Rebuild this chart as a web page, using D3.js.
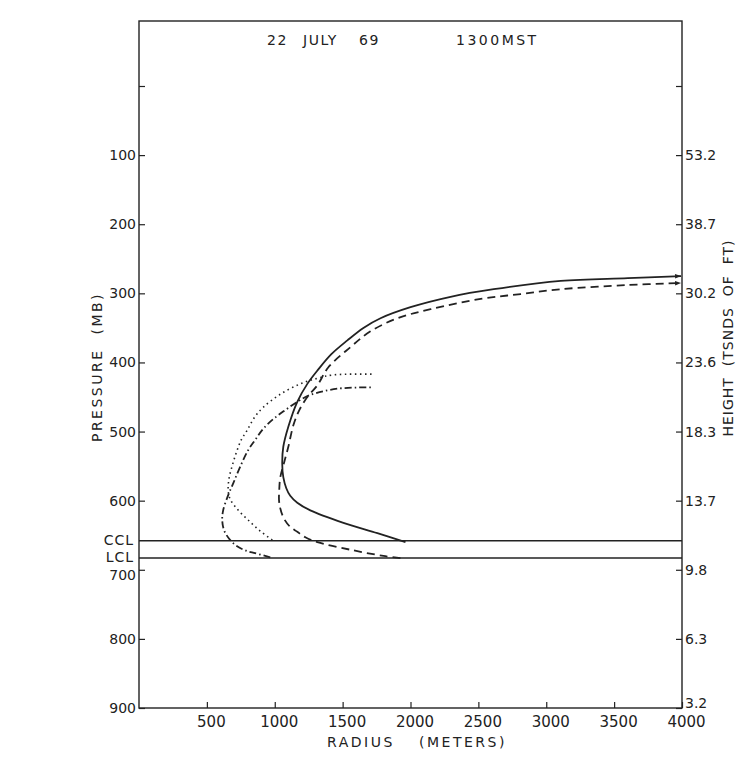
<!DOCTYPE html>
<html>
<head>
<meta charset="utf-8">
<script src="https://cdn.jsdelivr.net/npm/d3@7"></script>
<style>
  body { margin: 0; background: #fff; }
  svg { display: block; }
  text { font-family: "DejaVu Sans", sans-serif; fill: #222; }
</style>
</head>
<body>
<div id="chart"></div>
<script>
// ticks and labels
const pressureTicks = [0, 100, 200, 300, 400, 500, 600, 700, 800, 900]
const heightLabels = ["", "53.2", "38.7", "30.2", "23.6", "18.3", "13.7", "9.8", "6.3", "3.2"]
const radiusTicks = [500, 1000, 1500, 2000, 2500, 3000, 3500, 4000]

// condensation levels (mb)
const cclPressure = 658
const lclPressure = 683

// [radius m, pressure mb]
const solidCurve = [
  [1963, 660], [1756, 647], [1506, 632], [1262, 614], [1166, 603], [1114, 593],
  [1085, 582], [1063, 566], [1055, 546], [1063, 522], [1100, 493], [1166, 457],
  [1240, 431], [1321, 410], [1417, 388], [1535, 368], [1653, 350], [1779, 336],
  [2000, 320], [2295, 305], [2613, 294], [3107, 282], [3601, 278], [3993, 275]
]
const dashedCurve = [
  [1926, 683], [1801, 680], [1557, 671], [1314, 660], [1225, 653], [1166, 645],
  [1114, 638], [1063, 624], [1033, 603], [1033, 585], [1041, 566], [1070, 544],
  [1100, 522], [1137, 491], [1181, 469], [1240, 450], [1314, 433], [1395, 407],
  [1557, 378], [1705, 355], [1904, 336], [2148, 323], [2517, 308], [2812, 301],
  [3107, 294], [3601, 288], [3993, 285]
]
const dottedCurve = [
  [982, 657], [893, 644], [804, 628], [723, 612], [672, 598], [657, 585],
  [664, 567], [686, 550], [716, 531], [753, 512], [797, 498], [849, 480],
  [915, 465], [1041, 446], [1188, 431], [1314, 423], [1432, 418], [1727, 417]
]
const dashDotCurve = [
  [967, 682], [856, 676], [797, 673], [723, 666], [672, 657], [627, 643],
  [613, 628], [620, 614], [657, 592], [694, 575], [745, 551], [804, 527],
  [856, 512], [915, 496], [989, 482], [1077, 469], [1166, 457], [1262, 447],
  [1461, 438], [1720, 436]
]

const width = 748
const height = 775
const plotLeft = 139, plotRight = 682, plotTop = 21, plotBottom = 708
const ink = "#222"

const x = d3.scaleLinear().domain([0, 4000]).range([plotLeft, plotRight])
const y = d3.scaleLinear().domain([0, 900]).range([86, plotBottom])

const svg = d3.select("#chart")
  .append("svg")
  .attr("width", width)
  .attr("height", height)

// frame
svg.append("rect")
  .attr("x", plotLeft).attr("y", plotTop)
  .attr("width", plotRight - plotLeft).attr("height", plotBottom - plotTop)
  .attr("fill", "none").attr("stroke", ink).attr("stroke-width", 1.4)

// left axis
const gLeft = svg.append("g")
  .attr("transform", `translate(${plotLeft},0)`)
  .call(d3.axisLeft(y).tickValues(pressureTicks).tickSizeInner(-6).tickSizeOuter(0)
    .tickPadding(3).tickFormat(d => d === 0 ? "" : d))
gLeft.select(".domain").remove()
gLeft.selectAll("line").attr("stroke", ink).attr("stroke-width", 1.2)
gLeft.selectAll("text").style("font-size", "14px").attr("fill", ink)
  .attr("dy", d => d === 700 ? "0.7em" : "0.32em")

// right axis
const gRight = svg.append("g")
  .attr("transform", `translate(${plotRight},0)`)
  .call(d3.axisRight(y).tickValues(pressureTicks).tickSizeInner(-6).tickSizeOuter(0)
    .tickPadding(3).tickFormat((d, i) => heightLabels[i]))
gRight.select(".domain").remove()
gRight.selectAll("line").attr("stroke", ink).attr("stroke-width", 1.2)
gRight.selectAll("text").style("font-size", "14px").attr("fill", ink)
  .attr("dy", d => d === 900 ? "-0.05em" : "0.32em")

// bottom axis
const gBottom = svg.append("g")
  .attr("transform", `translate(0,${plotBottom})`)
  .call(d3.axisBottom(x).tickValues(radiusTicks).tickSizeInner(-6).tickSizeOuter(0)
    .tickPadding(8).tickFormat(d3.format("d")))
gBottom.select(".domain").remove()
gBottom.selectAll("line").attr("stroke", ink).attr("stroke-width", 1.2)
gBottom.selectAll("text").style("font-size", "15px").attr("fill", ink).attr("dx", 4)

// CCL / LCL levels
const levels = [["CCL", cclPressure], ["LCL", lclPressure]]
levels.forEach(([name, p]) => {
  svg.append("line")
    .attr("x1", plotLeft).attr("x2", plotRight)
    .attr("y1", y(p)).attr("y2", y(p))
    .attr("stroke", ink).attr("stroke-width", 1.4)
  svg.append("text")
    .attr("x", plotLeft - 5).attr("y", y(p))
    .attr("dy", "0.3em")
    .attr("text-anchor", "end")
    .style("font-size", "14px")
    .style("letter-spacing", "1px")
    .text(name)
})

// arrow marker
svg.append("defs").append("marker")
  .attr("id", "arrow")
  .attr("viewBox", "0 -4 8 8")
  .attr("refX", 8).attr("refY", 0)
  .attr("markerUnits", "userSpaceOnUse")
  .attr("markerWidth", 8).attr("markerHeight", 6)
  .attr("orient", "auto")
  .append("path")
  .attr("d", "M0,-3L8,0L0,3Z")
  .attr("fill", ink)

const line = d3.line()
  .x(d => x(d[0]))
  .y(d => y(d[1]))
  .curve(d3.curveCatmullRom.alpha(0.5))

const series = [
  { data: solidCurve, dash: null, w: 1.8, arrow: true },
  { data: dashedCurve, dash: "8,5", w: 1.8, arrow: true },
  { data: dottedCurve, dash: "1.5,3.5", w: 1.6, arrow: false },
  { data: dashDotCurve, dash: "7,3,1.5,3", w: 1.8, arrow: false }
]

series.forEach(s => {
  svg.append("path")
    .datum(s.data)
    .attr("d", line)
    .attr("fill", "none")
    .attr("stroke", ink)
    .attr("stroke-width", s.w)
    .attr("stroke-dasharray", s.dash)
    .attr("marker-end", s.arrow ? "url(#arrow)" : null)
})

// title
const title = svg.append("text")
  .attr("y", 45)
  .style("font-size", "14px")
  .style("letter-spacing", "1.5px")
title.append("tspan").attr("x", 267).text("22")
title.append("tspan").attr("x", 303).text("JULY")
title.append("tspan").attr("x", 359).text("69")
title.append("tspan").attr("x", 456).style("letter-spacing", "2.5px").text("1300MST")

// x title
const xTitle = svg.append("text")
  .attr("y", 747)
  .style("font-size", "14px")
  .style("letter-spacing", "2.5px")
xTitle.append("tspan").attr("x", 327).text("RADIUS")
xTitle.append("tspan").attr("x", 419).text("(METERS)")

// left title
svg.append("text")
  .attr("transform", "translate(102,367) rotate(-90)")
  .attr("text-anchor", "middle")
  .style("font-size", "14px")
  .style("letter-spacing", "2.5px")
  .style("white-space", "pre")
  .text("PRESSURE  (MB)")

// right title
svg.append("text")
  .attr("transform", "translate(733,338) rotate(-90)")
  .attr("text-anchor", "middle")
  .style("font-size", "14px")
  .style("letter-spacing", "1px")
  .style("white-space", "pre")
  .text("HEIGHT  (TSNDS  OF  FT)")
</script>
</body>
</html>
